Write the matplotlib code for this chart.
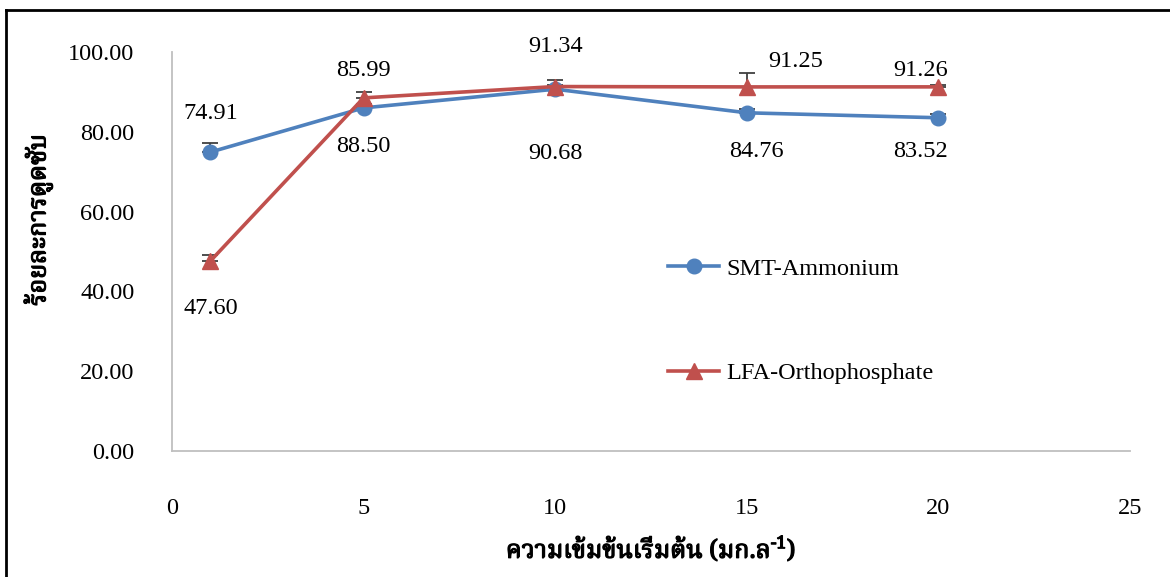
import matplotlib
matplotlib.use("Agg")
import matplotlib.pyplot as plt
import matplotlib.patheffects as pe
from matplotlib import font_manager
from matplotlib.ft2font import FT2Font
from matplotlib.lines import Line2D

# ---- data ----
concentration = [1, 5, 10, 15, 20]
smt_ammonium = [74.91, 85.99, 90.68, 84.76, 83.52]
lfa_orthophosphate = [47.60, 88.50, 91.34, 91.25, 91.26]
smt_err = [2.4, 1.0, 1.0, 1.0, 1.0]
lfa_err = [1.6, 1.5, 1.7, 3.6, 0.5]
series_names = ["SMT-Ammonium", "LFA-Orthophosphate"]
x_ticks = [0, 5, 10, 15, 20, 25]
y_ticks = [0, 20, 40, 60, 80, 100]
x_title = "ความเข้มข้นเริ่มต้น (มก.ล$^{\\mathregular{-1}}$)"
y_title = "ร้อยละการดูดซับ"

# label offsets in points (dx, dy) for each data label
smt_label_off = [(0, 28), (0, 27), (0, -46), (7, -28), (-13, -24)]
lfa_label_off = [(0, -34), (0, -35), (0, 29), (35, 18), (-13, 12)]

BLUE = "#4F81BD"
RED = "#C0504D"
ERR = "#404040"
GRID = "#BFBFBF"


def find_thai_family():
    preferred = ["Noto Serif Thai", "Noto Sans Thai", "TH Sarabun New",
                 "Sarabun", "Loma", "Garuda", "Norasi", "Kinnari",
                 "Waree", "Tlwg Typo", "Laksaman"]
    found = {}
    for f in font_manager.fontManager.ttflist:
        try:
            if 0x0E23 in FT2Font(f.fname).get_charmap():
                found.setdefault(f.name, f)
        except Exception:
            pass
    for p in preferred:
        if p in found:
            return p
    return next(iter(found), None)


thai_family = find_thai_family()
serif = "Liberation Serif"
thai_list = ([thai_family] if thai_family else []) + [serif, "DejaVu Sans"]

plt.rcParams["font.family"] = [serif, "DejaVu Sans"]
plt.rcParams["mathtext.fontset"] = "custom"
plt.rcParams["mathtext.rm"] = serif

W, H = 1170, 577
fig = plt.figure(figsize=(W / 100, H / 100), dpi=100)
ax = fig.add_axes([172 / W, 1 - 451 / H, (1130 - 172) / W, (451 - 52) / H])

FS = 17.5

ax.errorbar(concentration, smt_ammonium, yerr=[[0] * 5, smt_err],
            color=BLUE, lw=2.6, marker="o", ms=10.5, ecolor=ERR,
            elinewidth=1.3, capsize=5.5, capthick=1.3, zorder=3,
            label=series_names[0])
ax.errorbar(concentration, lfa_orthophosphate, yerr=[[0] * 5, lfa_err],
            color=RED, lw=2.6, marker="^", ms=11, ecolor=ERR,
            elinewidth=1.3, capsize=5.5, capthick=1.3, zorder=4,
            label=series_names[1])

for xv, yv, (dx, dy) in zip(concentration, smt_ammonium, smt_label_off):
    ax.annotate(f"{yv:.2f}", (xv, yv), xytext=(dx, dy),
                textcoords="offset points", ha="center", va="center",
                fontsize=FS, color="black")
for xv, yv, (dx, dy) in zip(concentration, lfa_orthophosphate, lfa_label_off):
    ax.annotate(f"{yv:.2f}", (xv, yv), xytext=(dx, dy),
                textcoords="offset points", ha="center", va="center",
                fontsize=FS, color="black")

ax.set_xlim(0, 25)
ax.set_ylim(0, 100)
ax.set_xticks(x_ticks)
ax.set_xticklabels([str(v) for v in x_ticks], fontsize=FS)
ax.set_yticks(y_ticks)
ax.set_yticklabels([f"{v:.2f}" for v in y_ticks], fontsize=FS)
ax.tick_params(axis="both", length=0)
ax.tick_params(axis="x", pad=34)
ax.tick_params(axis="y", pad=27)
for s in ["top", "right"]:
    ax.spines[s].set_visible(False)
for s in ["left", "bottom"]:
    ax.spines[s].set_color(GRID)
    ax.spines[s].set_linewidth(1.3)

handles = [Line2D([], [], color=BLUE, lw=2.6, marker="o", ms=10.5),
           Line2D([], [], color=RED, lw=2.6, marker="^", ms=11)]
fig.legend(handles, series_names, loc="center left",
           bbox_to_anchor=(668 / W, 1 - 321 / H), frameon=False,
           fontsize=FS, handlelength=2.1, handletextpad=0.3,
           labelspacing=3.4, borderpad=0, borderaxespad=0)

bold_fx = [pe.withStroke(linewidth=0.9, foreground="black")]
fig.text(651 / W, 1 - 549 / H, x_title, ha="center", va="center",
         fontsize=18, fontweight="bold", family=thai_list,
         path_effects=bold_fx)
fig.text(38 / W, 1 - 220 / H, y_title, ha="center", va="center",
         rotation=90, fontsize=18, fontweight="bold", family=thai_list,
         path_effects=bold_fx)

# outer frame (top and left edges)
fig.add_artist(Line2D([6 / W, 1.0], [1 - 10 / H, 1 - 10 / H],
                      transform=fig.transFigure, color="black", lw=2))
fig.add_artist(Line2D([6 / W, 6 / W], [0.0, 1 - 10 / H],
                      transform=fig.transFigure, color="black", lw=2))

fig.savefig("out.png", dpi=100)
